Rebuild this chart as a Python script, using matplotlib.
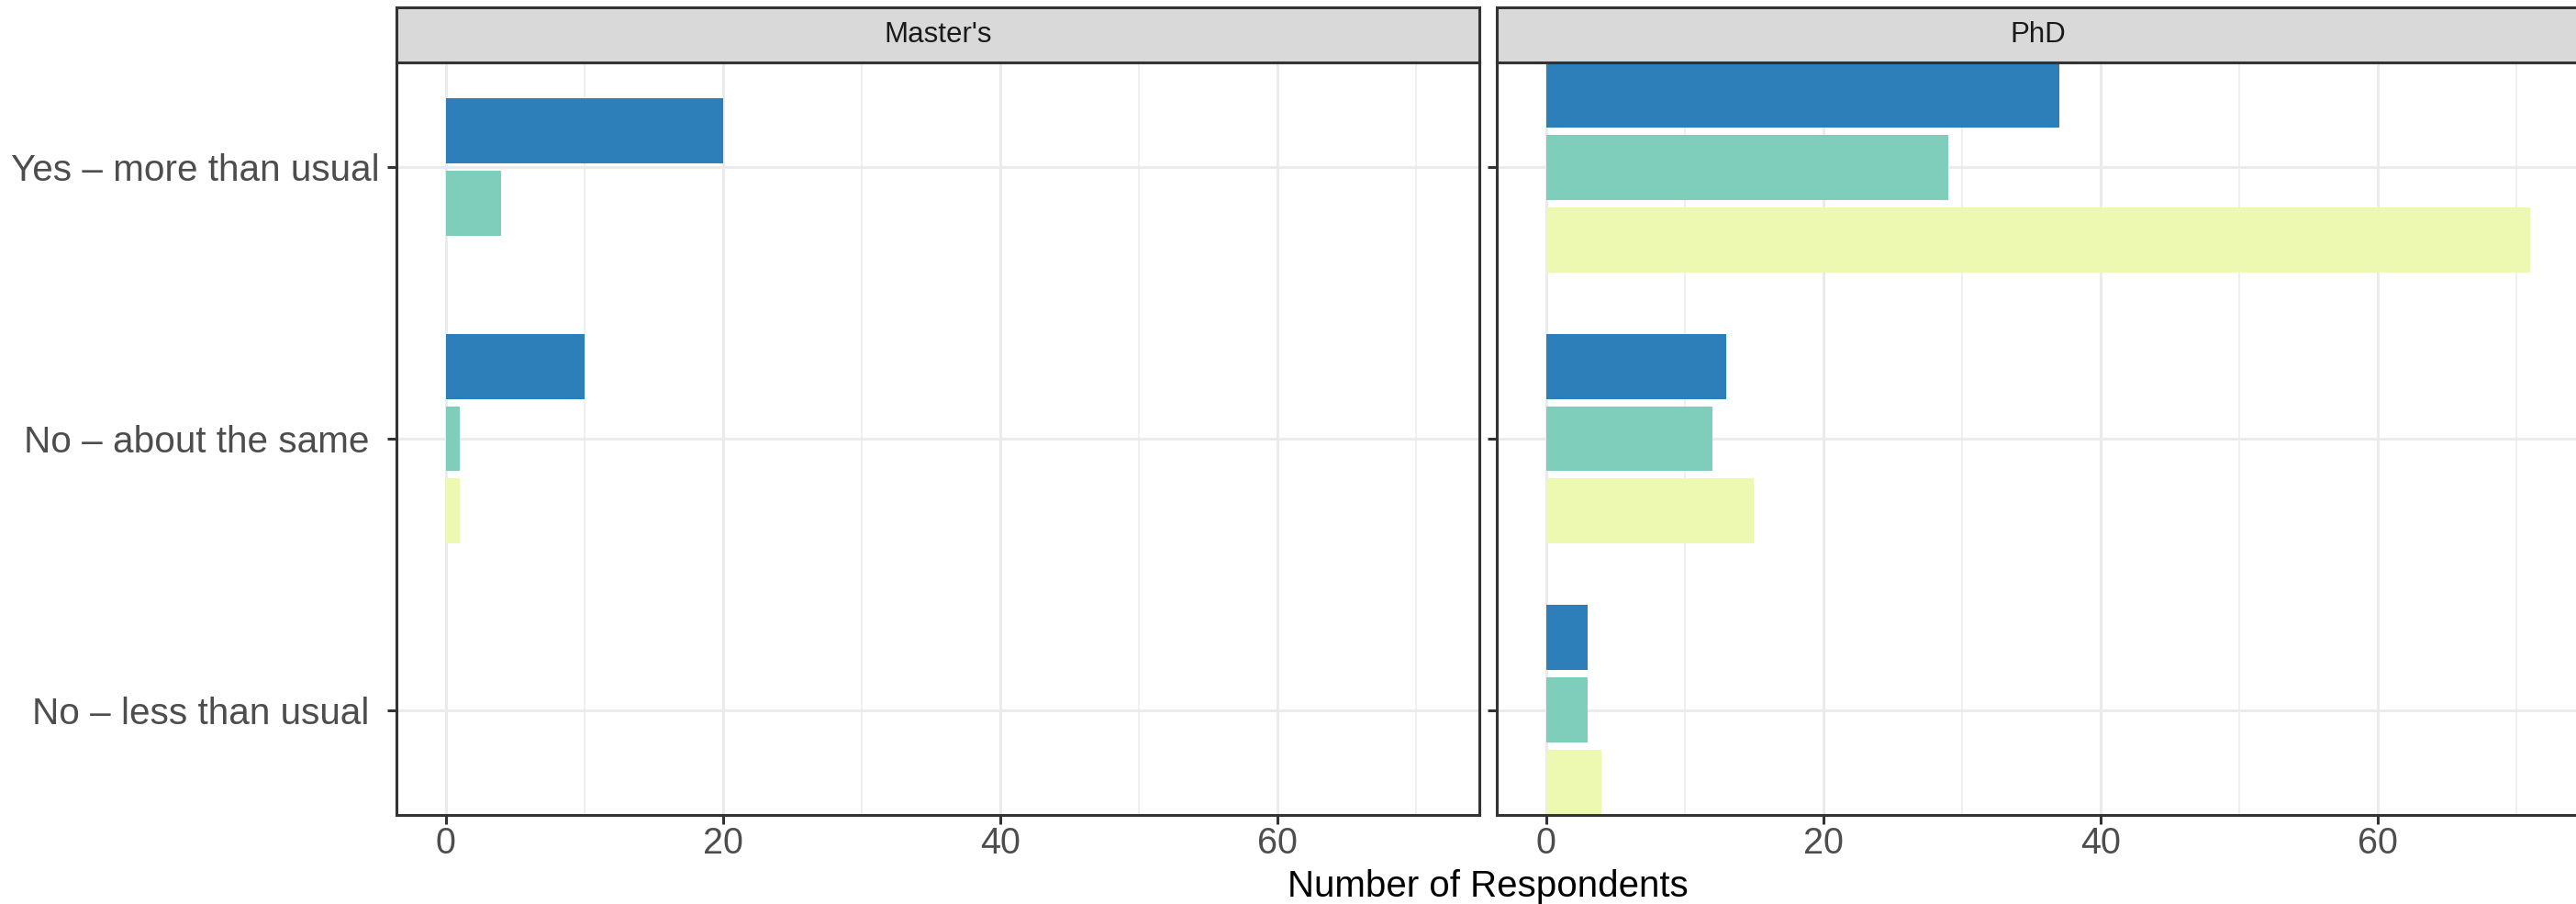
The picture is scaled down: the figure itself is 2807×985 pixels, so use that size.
import numpy as np
import matplotlib
matplotlib.use('Agg')
import matplotlib.pyplot as plt
from matplotlib.ticker import MultipleLocator

plt.rcParams['font.family'] = ['Liberation Sans', 'DejaVu Sans']

# Data (None = no bar)
categories = ['Yes – more than usual', 'No – about the same ', 'No – less than usual ']
panels = ["Master's", 'PhD']
fill_colors = ['#2C7FB8', '#7FCDBB', '#EDF8B1']

masters_s1 = [20, 10, None]
masters_s2 = [4, 1, None]
masters_s3 = [None, 1, None]

phd_s1 = [37, 13, 3]
phd_s2 = [29, 12, 3]
phd_s3 = [71, 15, 4]

panel_series = {
    "Master's": [masters_s1, masters_s2, masters_s3],
    'PhD': [phd_s1, phd_s2, phd_s3],
}

W, H = 2807, 985
fig = plt.figure(figsize=(W / 100, H / 100), dpi=100)

dodge = 0.8
slot = dodge / 3
bar_h = slot * 0.9
x_max = 71
x_lo, x_hi = -0.05 * x_max, x_max * 1.05

border = '#333333'
grid_col = '#EBEBEB'

panel_left = [432, 1631]
panel_w = 1180
panel_top, panel_bot = 68, 888
strip_top = 8.5


def frac(x0, y_top, w, h):
    return [x0 / W, (H - y_top - h) / H, w / W, h / H]


for i, name in enumerate(panels):
    ax = fig.add_axes(frac(panel_left[i], panel_top, panel_w, panel_bot - panel_top))
    series = panel_series[name]
    for c in range(len(categories)):
        # bars that exist in this group are centred (dodge, preserve single)
        present = [k for k in range(3) if series[k][c] is not None]
        n = len(present)
        for j, k in enumerate(present):
            y = c + (j - (n - 1) / 2) * slot
            ax.barh(y, series[k][c], height=bar_h, color=fill_colors[k],
                    linewidth=0, zorder=2)

    ax.set_xlim(x_lo, x_hi)
    ax.set_ylim(len(categories) - 1 + dodge / 2 - slot * 0.05, -dodge / 2 + slot * 0.05)
    ax.xaxis.set_major_locator(MultipleLocator(20))
    ax.xaxis.set_minor_locator(MultipleLocator(10))
    ax.set_yticks(range(len(categories)))
    ax.set_axisbelow(True)
    ax.grid(which='major', color=grid_col, linewidth=2.2)
    ax.grid(which='minor', axis='x', color=grid_col, linewidth=1.1)
    for sp in ax.spines.values():
        sp.set_color(border)
        sp.set_linewidth(2.2)
    ax.tick_params(axis='both', which='major', length=7, width=2.2, color=border,
                   labelsize=28.5, labelcolor='#4D4D4D')
    ax.tick_params(axis='y', which='major', labelsize=29.2, pad=6.5)
    ax.tick_params(axis='x', which='major', pad=2)
    ax.tick_params(which='minor', length=0)
    if i == 0:
        ax.set_yticklabels(categories)
    else:
        ax.set_yticklabels([])

    # facet strip
    sax = fig.add_axes(frac(panel_left[i], strip_top, panel_w, panel_top - strip_top))
    sax.set_facecolor('#D9D9D9')
    sax.set_xticks([])
    sax.set_yticks([])
    for sp in sax.spines.values():
        sp.set_color(border)
        sp.set_linewidth(2.2)
    sax.text(0.5, 0.5, name, ha='center', va='center', fontsize=22.5,
             color='#1A1A1A', transform=sax.transAxes)

fig.text((panel_left[0] + panel_left[1] + panel_w) / 2 / W, (H - 977) / H,
         'Number of Respondents', ha='center', va='baseline', fontsize=29, color='black')

fig.savefig('out.png', dpi=100)
